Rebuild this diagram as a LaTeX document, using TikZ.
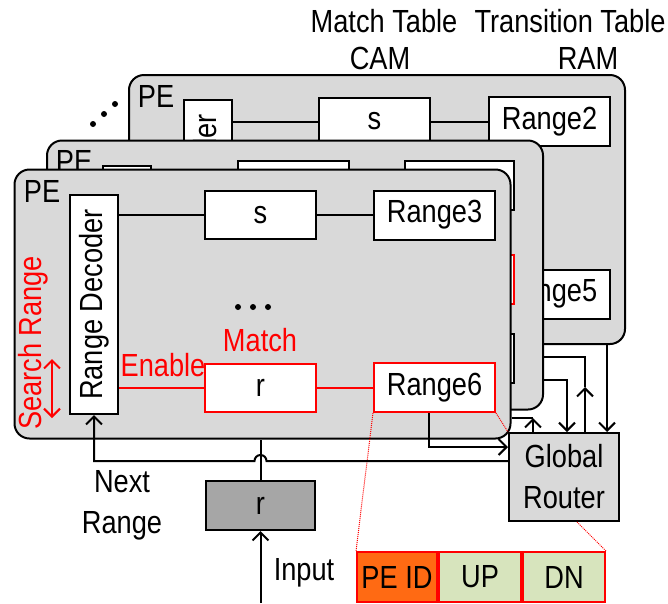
\documentclass[tikz,border=0pt]{standalone}
\usepackage{fontspec}
\setmainfont{Liberation Sans}[FakeStretch=0.85]
\usepackage{xcolor}
\usepackage{tikz}
\usetikzlibrary{arrows.meta, positioning}

\definecolor{pefill}{HTML}{D9D9D9}
\definecolor{regfill}{HTML}{A6A6A6}
\definecolor{idfill}{HTML}{FF6A13}
\definecolor{fieldfill}{HTML}{D7E4BD}

\begin{document}
\begin{tikzpicture}[x=1pt, y=-1pt, line width=2pt,
    font=\fontsize{32}{41}\selectfont,
    pe/.style={draw, fill=pefill, rounded corners=15pt, minimum width=496pt, minimum height=269pt},
    cell/.style={draw, fill=white, inner sep=0pt, minimum width=111pt, minimum height=48pt},
    rng/.style={cell, minimum width=121pt, minimum height=49pt},
    dec/.style={draw, fill=white, inner sep=0pt, minimum width=48pt, minimum height=219pt},
    field/.style={draw=red, fill=fieldfill, inner sep=0pt, minimum width=82pt, minimum height=50pt},
    tip/.style={-{Straight Barb[length=8pt, width=16pt]}},
    zoomed/.style={red, line width=1pt, densely dotted}]
    \useasboundingbox (0,0) rectangle (668,603);

    % headings
    \node (cam head) at (384,21) {Match Table};
    \node (cam) at (380,58) {CAM};
    \node (ram head) at (570,21) {Transition Table};
    \node (ram) at (588,58) {RAM};

    % back PE
    \node[pe] (pe3) at (377,209.5) {};
    \node (pe3 name) at (156,96) {PE};
    \node[dec] (dec3) at (208,209.5) {\rotatebox{90}{Range Decoder}};
    \node[cell] (s3) at (374.5,121.5) {s};
    \node[rng] (rng2) at (549.5,121.5) {Range2};
    \node[rng] (rng5) at (549.5,294) {Range5};
    \draw (dec3.east |- s3) -- (s3) -- (rng2);
    \foreach \x/\y in {93/124, 104/114, 115/104}
        \fill (\x,\y) circle (3pt);

    % middle PE
    \node[pe] (pe2) at (295,275) {};
    \node (pe2 name) at (74,161) {PE};
    \node[dec] (dec2) at (126.5,275.5) {};
    \node[cell] (s2) at (293,185) {};
    \node[rng, minimum width=109pt] (m1) at (459.5,185) {};
    \node[rng, minimum width=109pt, draw=red] (m2) at (459.5,279) {};
    \node[rng, minimum width=109pt] (m3) at (459.5,358.5) {};

    % front PE
    \node[pe] (pe1) at (262.5,304) {};
    \node (pe1 name) at (42,191) {PE};
    \node[dec] (dec1) at (94,304.5) {\rotatebox{90}{Range Decoder}};
    \node[cell] (s1) at (260.5,215) {s};
    \node[rng, right=56pt of s1] (rng3) {Range3};
    \node[cell, draw=red] (r1) at (260.5,387.5) {r};
    \node[rng, draw=red, right=56pt of r1] (rng6) {Range6};
    \node[red] (match) at (260,340) {Match};
    \node[red] (enable) at (163,365) {Enable};
    \node[red, rotate=90] (search) at (33,343) {Search Range};
    \foreach \x in {238,253,268}
        \fill (\x,307) circle (3pt);
    \draw (dec1.east |- s1) -- (s1) -- (rng3);
    \draw[red] (dec1.east |- r1) -- (r1) -- (rng6);
    \coordinate (sr1) at (52,359);
    \coordinate (sr2) at (52,418);
    \draw[red, {Straight Barb[length=8pt, width=16pt]}-{Straight Barb[length=8pt, width=16pt]}] (sr1) -- (sr2);

    % outside the PEs
    \node[draw, fill=regfill, inner sep=0pt, minimum width=109pt, minimum height=49pt] (rin) at (260.5,505.5) {r};
    \node[draw, fill=pefill, align=center, inner sep=0pt, minimum width=110pt, minimum height=88pt] (gr) at (564,477) {Global\\Router};
    \node[align=center] (next) at (122,505) {Next\\Range};
    \node (input) at (304,573) {Input};

    \node[field, fill=idfill, minimum width=80pt] (peid) at (397,577) {PE ID};
    \node[field, right=0pt of peid] (up) {UP};
    \node[field, right=0pt of up] (dn) {DN};
    \draw[zoomed] (rng6.south west) -- (peid.north west);
    \draw[zoomed] (rng6.south east) -- (gr.north west);
    \draw[zoomed] ([xshift=13pt]gr.south) -- (dn.north east);

    \coordinate (hop) at (266.5,461);
    \coordinate (in) at (260.5,603);
    \coordinate (r6) at (429,447);
    \draw[tip] (gr.west |- hop) -- (hop) arc[start angle=0, end angle=180, radius=6pt]
        -- (dec1.south |- hop) -- (dec1.south);
    \draw[tip] (in) -- (rin);
    \draw (rin) -- (rin.north |- pe1.south);
    \draw[tip] (rng6.south -| r6) -- (r6) -- (gr.west |- r6);

    % links to the router
    \coordinate (l1) at (533,418);
    \coordinate (l2) at (567,380);
    \coordinate (l3) at (585,357);
    \coordinate (l3tip) at (585,387);
    \coordinate (l4) at (607,344);
    \draw (pe1.east |- l1) -- (l1);
    \draw[tip] (gr.north -| l1) -- (l1);
    \draw[tip] (pe2.east |- l2) -- (l2) -- (gr.north -| l2);
    \draw (pe2.east |- l3) -- (l3) -- (l3tip);
    \draw[tip] (gr.north -| l3) -- (l3tip);
    \draw[tip] (l4) -- (gr.north -| l4);
\end{tikzpicture}
\end{document}
